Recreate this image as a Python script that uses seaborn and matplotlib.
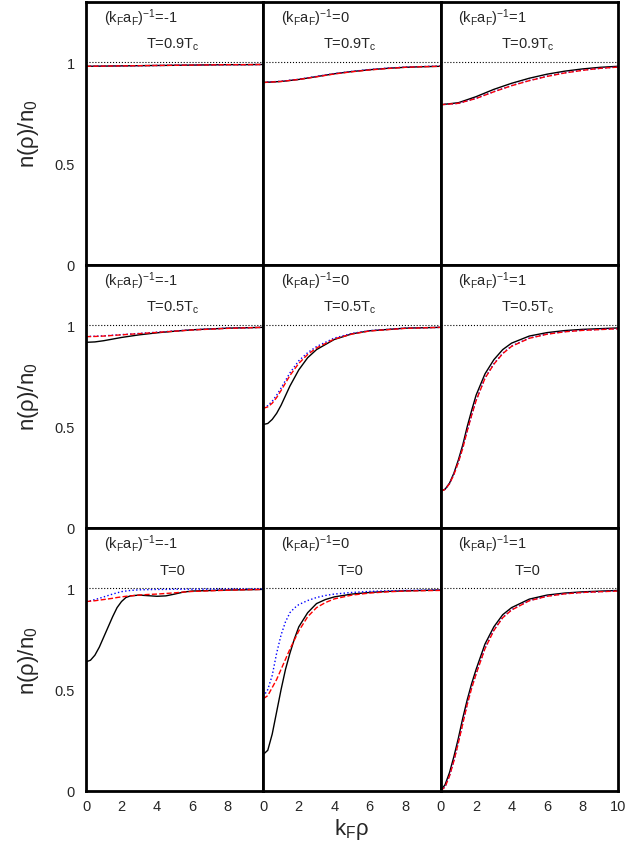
import pandas as pd
import matplotlib.pyplot as plt
import seaborn as sns

# inverse coupling (columns) and temperature (rows)
couplings = ["-1", "0", "1"]
temps = ["0.9T$_c$", "0.5T$_c$", "0"]

# (row, col) -> x grid and three curves: black solid, blue dotted, red dashed
x_flat = [0, 1, 2, 3, 4, 5, 6, 7, 8, 9, 10]
x_fine = [0, 0.25, 0.5, 0.75, 1, 1.25, 1.5, 1.75, 2, 2.5, 3, 3.5, 4, 5, 6, 7, 8, 10]
curves = {
    (0, 0): dict(x=x_flat,
                 black=[0.980, 0.981, 0.982, 0.983, 0.984, 0.985, 0.986, 0.987, 0.988, 0.988, 0.989],
                 blue=[0.980, 0.981, 0.982, 0.983, 0.984, 0.985, 0.986, 0.987, 0.988, 0.988, 0.989],
                 red=[0.980, 0.981, 0.982, 0.983, 0.984, 0.985, 0.986, 0.987, 0.988, 0.988, 0.989]),
    (0, 1): dict(x=x_flat,
                 black=[0.900, 0.905, 0.915, 0.929, 0.943, 0.954, 0.963, 0.970, 0.975, 0.978, 0.980],
                 blue=[0.901, 0.906, 0.916, 0.930, 0.944, 0.955, 0.964, 0.971, 0.976, 0.979, 0.981],
                 red=[0.900, 0.905, 0.915, 0.928, 0.942, 0.953, 0.962, 0.969, 0.975, 0.978, 0.980]),
    (0, 2): dict(x=x_flat,
                 black=[0.790, 0.800, 0.830, 0.866, 0.896, 0.921, 0.941, 0.956, 0.967, 0.975, 0.980],
                 blue=[0.790, 0.797, 0.822, 0.855, 0.885, 0.910, 0.931, 0.948, 0.961, 0.970, 0.977],
                 red=[0.790, 0.797, 0.821, 0.854, 0.884, 0.909, 0.930, 0.947, 0.960, 0.970, 0.976]),
    (1, 0): dict(x=[0, 0.5, 1, 1.5, 2, 3, 4, 5, 6, 8, 10],
                 black=[0.916, 0.918, 0.924, 0.932, 0.940, 0.953, 0.963, 0.971, 0.978, 0.986, 0.990],
                 blue=[0.945, 0.946, 0.948, 0.951, 0.954, 0.960, 0.966, 0.972, 0.978, 0.986, 0.990],
                 red=[0.944, 0.945, 0.947, 0.950, 0.953, 0.959, 0.965, 0.971, 0.977, 0.985, 0.990]),
    (1, 1): dict(x=[0, 0.25, 0.5, 0.75, 1, 1.5, 2, 2.5, 3, 4, 5, 6, 8, 10],
                 black=[0.510, 0.515, 0.535, 0.565, 0.605, 0.700, 0.780, 0.840, 0.880, 0.930, 0.958, 0.973, 0.986, 0.990],
                 blue=[0.595, 0.603, 0.625, 0.655, 0.690, 0.765, 0.825, 0.865, 0.895, 0.937, 0.960, 0.974, 0.986, 0.990],
                 red=[0.590, 0.597, 0.615, 0.643, 0.678, 0.752, 0.812, 0.856, 0.888, 0.932, 0.957, 0.972, 0.985, 0.990]),
    (1, 2): dict(x=x_fine,
                 black=[0.180, 0.190, 0.220, 0.270, 0.335, 0.410, 0.500, 0.580, 0.655, 0.760, 0.830, 0.880, 0.912, 0.947, 0.964, 0.974, 0.980, 0.987],
                 blue=[0.180, 0.190, 0.218, 0.265, 0.325, 0.395, 0.480, 0.558, 0.630, 0.740, 0.810, 0.862, 0.898, 0.937, 0.957, 0.969, 0.976, 0.984],
                 red=[0.180, 0.189, 0.217, 0.263, 0.323, 0.393, 0.478, 0.556, 0.628, 0.738, 0.808, 0.860, 0.896, 0.936, 0.956, 0.968, 0.975, 0.983]),
    (2, 0): dict(x=[0, 0.25, 0.5, 0.75, 1, 1.25, 1.5, 1.75, 2, 2.25, 2.5, 3, 3.5, 4, 4.5, 5, 5.5, 6, 8, 10],
                 black=[0.637, 0.645, 0.670, 0.710, 0.760, 0.810, 0.860, 0.905, 0.935, 0.955, 0.963, 0.967, 0.964, 0.961, 0.963, 0.972, 0.982, 0.987, 0.992, 0.995],
                 blue=[0.935, 0.939, 0.945, 0.951, 0.958, 0.965, 0.972, 0.978, 0.984, 0.987, 0.990, 0.993, 0.994, 0.995, 0.995, 0.996, 0.996, 0.996, 0.997, 0.997],
                 red=[0.935, 0.937, 0.939, 0.942, 0.945, 0.948, 0.951, 0.955, 0.958, 0.961, 0.963, 0.967, 0.970, 0.972, 0.975, 0.978, 0.982, 0.985, 0.991, 0.995]),
    (2, 1): dict(x=x_fine,
                 black=[0.180, 0.200, 0.280, 0.390, 0.500, 0.600, 0.680, 0.750, 0.810, 0.880, 0.925, 0.945, 0.958, 0.972, 0.980, 0.985, 0.988, 0.992],
                 blue=[0.465, 0.500, 0.570, 0.680, 0.770, 0.835, 0.880, 0.903, 0.920, 0.940, 0.955, 0.965, 0.972, 0.980, 0.985, 0.988, 0.990, 0.993],
                 red=[0.455, 0.470, 0.510, 0.550, 0.600, 0.650, 0.700, 0.745, 0.790, 0.860, 0.905, 0.930, 0.948, 0.967, 0.977, 0.983, 0.987, 0.990]),
    (2, 2): dict(x=x_fine,
                 black=[0.000, 0.030, 0.090, 0.170, 0.260, 0.360, 0.450, 0.530, 0.600, 0.725, 0.810, 0.870, 0.905, 0.947, 0.967, 0.977, 0.983, 0.990],
                 blue=[0.000, 0.020, 0.075, 0.150, 0.240, 0.335, 0.430, 0.510, 0.580, 0.705, 0.795, 0.857, 0.895, 0.940, 0.962, 0.974, 0.980, 0.988],
                 red=[0.000, 0.019, 0.073, 0.148, 0.237, 0.332, 0.427, 0.507, 0.577, 0.702, 0.792, 0.855, 0.893, 0.939, 0.961, 0.973, 0.980, 0.987]),
}

sns.set_style("white")
plt.rcParams["font.family"] = ["Liberation Sans", "DejaVu Sans"]
plt.rcParams["mathtext.default"] = "regular"

fig, axes = plt.subplots(3, 3, figsize=(6.28, 8.45), dpi=100)
fig.subplots_adjust(left=0.137, right=0.984, top=0.997, bottom=0.063, wspace=0, hspace=0)

styles = [("black", "black", "-", 1.0), ("blue", "blue", ":", 1.0), ("red", "red", "--", 1.0)]

for r in range(3):
    for c in range(3):
        ax = axes[r, c]
        d = curves[(r, c)]
        ax.axhline(1.0, color="black", ls=":", lw=0.8)
        for key, col, ls, lw in styles:
            df = pd.DataFrame({"x": d["x"], "y": d[key]})
            sns.lineplot(data=df, x="x", y="y", ax=ax, color=col, linestyle=ls, lw=lw)
        ax.set_xlim(0, 10)
        ax.set_ylim(0, 1.3)
        ax.set_xlabel("")
        ax.set_ylabel("")
        for sp in ax.spines.values():
            sp.set_linewidth(2)
            sp.set_color("black")
        ax.text(1.0, 1.225, "(k$_F$a$_F$)$^{-1}$=" + couplings[c], fontsize=10.5, va="center")
        ax.text(4.9, 1.09, "T=" + temps[r], fontsize=10.5, va="center", ha="center")

        if r == 2:
            ticks = [0, 2, 4, 6, 8, 10] if c == 2 else [0, 2, 4, 6, 8]
            ax.set_xticks(ticks)
            ax.set_xticklabels([str(t) for t in ticks])
            ax.tick_params(axis="x", direction="in", length=5, width=2, labelsize=10.5, pad=6)
        else:
            ax.set_xticks([])
        if c == 0:
            ax.set_yticks([0, 0.5, 1])
            ax.set_yticklabels(["0", "0.5", "1"])
            ax.tick_params(axis="y", direction="in", length=5, width=2, labelsize=10.5, pad=8)
            ax.set_ylabel("n(ρ)/n$_0$", fontsize=16, labelpad=10)
        else:
            ax.set_yticks([])

axes[2, 1].set_xlabel("k$_F$ρ", fontsize=16, labelpad=2)

fig.savefig("out.png", dpi=100)
